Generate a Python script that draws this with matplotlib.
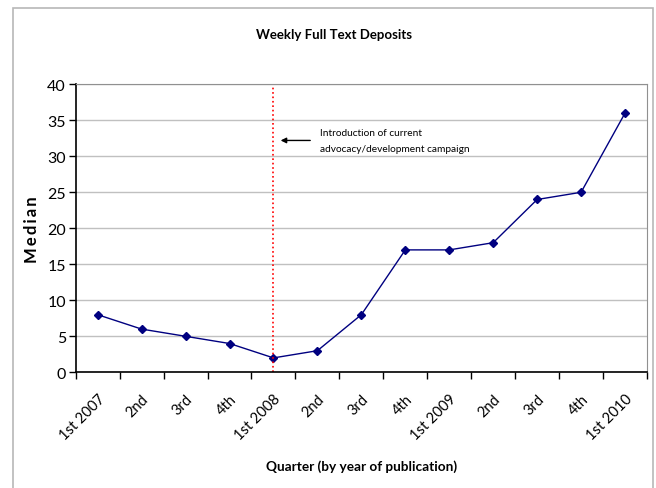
import numpy as np
import matplotlib.pyplot as plt
from matplotlib.patches import Rectangle

quarters = ['1st 2007', '2nd', '3rd', '4th', '1st 2008', '2nd', '3rd', '4th',
            '1st 2009', '2nd', '3rd', '4th', '1st 2010']
median = [8, 6, 5, 4, 2, 3, 8, 17, 17, 18, 24, 25, 36]
campaign_idx = 4  # 1st 2008

plt.rcParams['font.family'] = ['Lato', 'DejaVu Sans']

fig = plt.figure(figsize=(6.56, 4.89), dpi=100)
# chart border
fig.patches.append(Rectangle((13/656, -0.05), 640/656, 1 - 9/489 + 0.05,
                             transform=fig.transFigure, fill=False,
                             edgecolor='#b8b8b8', linewidth=1.2))

ax = fig.add_axes([0.1154, 0.2366, 0.8709, 0.589])
x = np.arange(len(quarters))
ax.plot(x, median, color='#000080', linewidth=1, marker='D', markersize=4.5,
        markerfacecolor='#000080', markeredgecolor='#000080')
ax.axvline(campaign_idx, color='red', linestyle=':', linewidth=1.2)

ax.set_xlim(-0.5, len(quarters) - 0.5)
ax.set_ylim(0, 40)
ax.set_yticks(range(0, 41, 5))
ax.yaxis.grid(True, color='#c0c0c0', linewidth=1)
ax.set_axisbelow(True)

ax.set_xticks(x)
ax.set_xticklabels(quarters, rotation=45, ha='right', va='top',
                   rotation_mode='anchor', fontsize=10.5)
ax.set_xticks(np.arange(-0.5, len(quarters)), minor=True)
ax.tick_params(axis='x', which='major', length=0, pad=14)
ax.tick_params(axis='x', which='minor', length=5, width=1, direction='out')
ax.tick_params(axis='y', length=5, width=1, labelsize=11.5, pad=2)

for s in ['left', 'bottom']:
    ax.spines[s].set_color('black')
    ax.spines[s].set_linewidth(1.2)
for s in ['top', 'right']:
    ax.spines[s].set_color('#909090')

ax.annotate('', xy=(campaign_idx + 0.1, 32.2), xytext=(campaign_idx + 0.9, 32.2),
            arrowprops=dict(arrowstyle='-|>', color='black', lw=1,
                            mutation_scale=8))
ax.text(campaign_idx + 1.05, 32.2, 'Introduction of current\nadvocacy/development campaign',
        fontsize=7.3, va='center', ha='left', linespacing=1.9)

ax.set_ylabel('\u2009'.join('Median'), fontsize=12, fontweight='bold', labelpad=5)
fig.text(362/656, 1 - 467/489, 'Quarter (by year of publication)', ha='center',
         va='center', fontsize=9.8, fontweight='bold')
fig.text(334/656, 1 - 35/489, 'Weekly Full Text Deposits', ha='center',
         va='center', fontsize=9.5, fontweight='bold')

plt.savefig('out.png', dpi=100)
